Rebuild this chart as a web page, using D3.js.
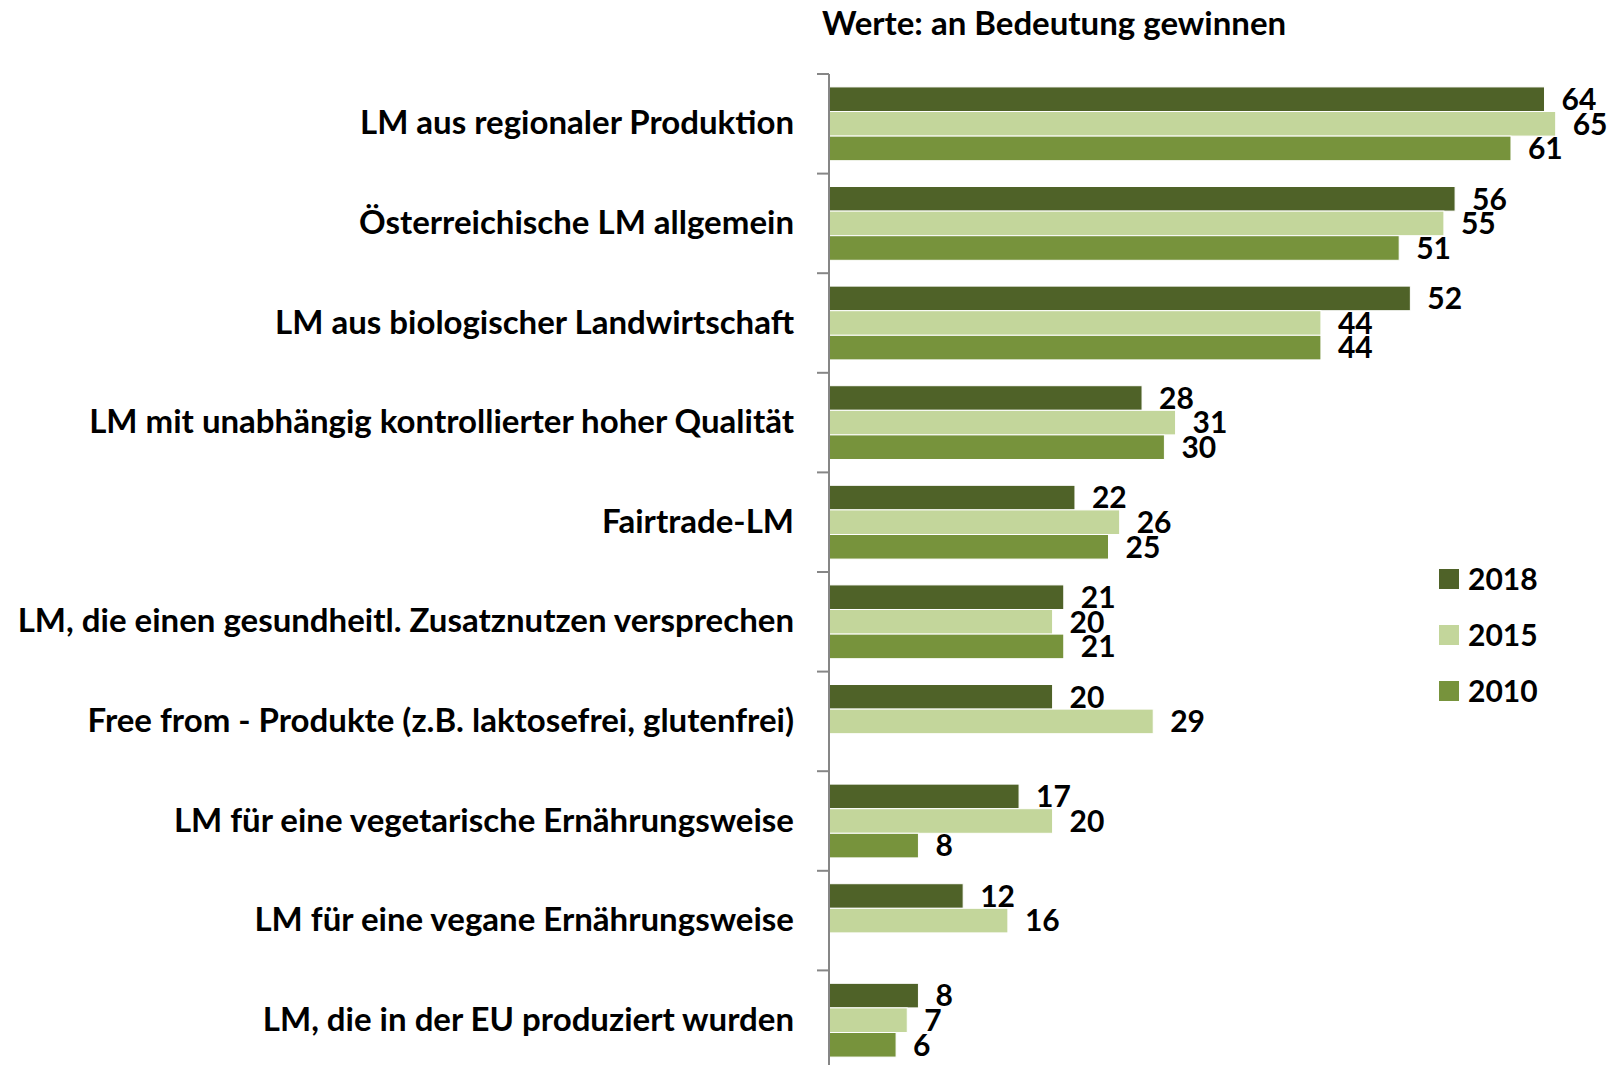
<!DOCTYPE html>
<html>
<head>
<meta charset="utf-8">
<script src="https://cdn.jsdelivr.net/npm/d3@7"></script>
<style>
  body { margin: 0; background: #fff; }
  text { font-family: Lato, "Open Sans", sans-serif; font-weight: 700; fill: #000; }
</style>
</head>
<body>
<svg id="chart" width="1612" height="1065"></svg>
<script>
// data
var categories = [
  "LM aus regionaler Produktion",
  "Österreichische LM allgemein",
  "LM aus biologischer Landwirtschaft",
  "LM mit unabhängig kontrollierter hoher Qualität",
  "Fairtrade-LM",
  "LM, die einen gesundheitl. Zusatznutzen versprechen",
  "Free from - Produkte (z.B. laktosefrei, glutenfrei)",
  "LM für eine vegetarische Ernährungsweise",
  "LM für eine vegane Ernährungsweise",
  "LM, die in der EU produziert wurden"
];
var years = ["2018", "2015", "2010"];
var values2018 = [64, 56, 52, 28, 22, 21, 20, 17, 12, 8];
var values2015 = [65, 55, 44, 31, 26, 20, 29, 20, 16, 7];
var values2010 = [61, 51, 44, 30, 25, 21, null, 8, null, 6];
var colors = ["#4F6228", "#C3D69B", "#77933C"];
var title = "Werte: an Bedeutung gewinnen";

var series = [values2018, values2015, values2010];

var svg = d3.select("#chart");
var axisX = 829;

var x = d3.scaleLinear().domain([0, 65]).range([axisX, axisX + 65 * 11.18]);
var y = d3.scaleBand().domain(categories).range([74, 74 + 99.6 * categories.length]).padding(0);
var yInner = d3.scaleBand().domain(years).range([0, y.bandwidth()]).paddingInner(0).paddingOuter(0.525);
var color = d3.scaleOrdinal().domain(years).range(colors);

// title
svg.append("text")
  .attr("x", 822)
  .attr("y", 23)
  .attr("dy", "0.35em")
  .style("font-size", "33px")
  .text(title);

// bars
var rows = [];
categories.forEach(function (c, i) {
  years.forEach(function (yr, j) {
    if (series[j][i] != null) rows.push({cat: c, year: yr, value: series[j][i]});
  });
});

var g = svg.append("g");
g.selectAll("rect").data(rows).enter().append("rect")
  .attr("x", x(0))
  .attr("y", function (d) { return y(d.cat) + yInner(d.year); })
  .attr("width", function (d) { return x(d.value) - x(0); })
  .attr("height", yInner.bandwidth())
  .attr("fill", function (d) { return color(d.year); })
  .attr("stroke", "#fff")
  .attr("stroke-width", 1);

g.selectAll("text.val").data(rows).enter().append("text")
  .attr("class", "val")
  .attr("x", function (d) { return x(d.value) + 17; })
  .attr("y", function (d) { return y(d.cat) + yInner(d.year) + yInner.bandwidth() / 2; })
  .attr("dy", "0.36em")
  .style("font-size", "30px")
  .text(function (d) { return d.value; });

// category labels
svg.selectAll("text.cat").data(categories).enter().append("text")
  .attr("class", "cat")
  .attr("x", 794)
  .attr("y", function (d) { return y(d) + y.bandwidth() / 2 - 1; })
  .attr("dy", "0.35em")
  .attr("text-anchor", "end")
  .style("font-size", "33px")
  .text(function (d) { return d; });

// axis line with ticks at band edges
var edges = categories.map(function (c) { return y(c); });
svg.append("line")
  .attr("x1", axisX).attr("x2", axisX)
  .attr("y1", edges[0]).attr("y2", 1065)
  .attr("stroke", "#868686").attr("stroke-width", 2);
svg.selectAll("line.tick").data(edges).enter().append("line")
  .attr("class", "tick")
  .attr("x1", axisX - 12).attr("x2", axisX)
  .attr("y1", function (d) { return d; }).attr("y2", function (d) { return d; })
  .attr("stroke", "#868686").attr("stroke-width", 2);

// legend
var legend = svg.append("g").selectAll("g").data(years).enter().append("g")
  .attr("transform", function (d, i) { return "translate(1439," + (569 + i * 56) + ")"; });
legend.append("rect")
  .attr("width", 20).attr("height", 20)
  .attr("fill", function (d) { return color(d); });
legend.append("text")
  .attr("x", 29).attr("y", 10).attr("dy", "0.36em")
  .style("font-size", "30px")
  .text(function (d) { return d; });
</script>
</body>
</html>
